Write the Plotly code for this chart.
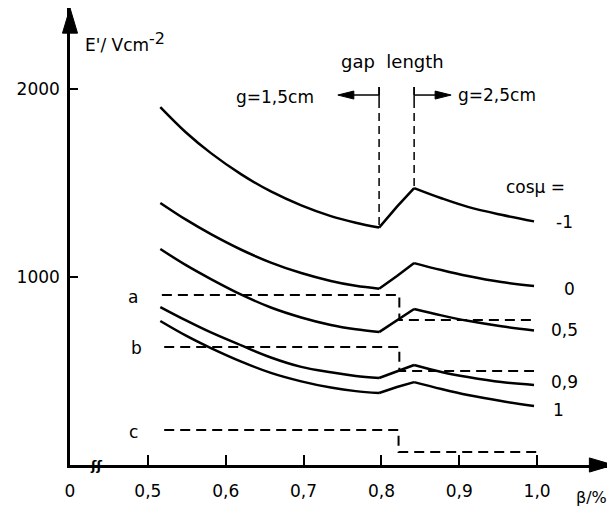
import plotly.graph_objects as go

# ---------------- data ----------------
beta = [0.516, 0.549, 0.581, 0.620, 0.658, 0.697, 0.735, 0.767, 0.797,
        0.820, 0.842, 0.877, 0.911, 0.954, 0.996]
E_m1 = [1904, 1769, 1659, 1546, 1455, 1381, 1324, 1289, 1263, 1374, 1473, 1419, 1373, 1331, 1296]
E_0 = [1394, 1305, 1228, 1145, 1077, 1021, 979, 953, 938, 1005, 1074, 1037, 1005, 973, 952]
E_05 = [1149, 1063, 989, 906, 838, 785, 745, 722, 707, 771, 830, 796, 767, 738, 716]
E_09 = [840, 769, 705, 636, 572, 522, 493, 474, 463, 500, 532, 495, 468, 441, 426]
E_1 = [766, 688, 622, 550, 490, 445, 412, 393, 383, 415, 441, 404, 372, 340, 314]
curves = [("-1", E_m1), ("0", E_0), ("0,5", E_05), ("0,9", E_09), ("1", E_1)]
i_gap0, i_gap1 = 8, 10          # indices where the gap length changes

a_beta = [0.518, 0.823, 0.823, 0.996]
a_E = [904, 904, 771, 771]
b_beta = [0.521, 0.823, 0.823, 0.996]
b_E = [628, 628, 500, 500]
c_beta = [0.521, 0.822, 0.822, 1.001]
c_E = [186, 186, 69, 69]
limits = [("a", a_beta, a_E), ("b", b_beta, b_E), ("c", c_beta, c_E)]

gap_start, gap_end = 0.797, 0.842
gap_top = 2011
gap_arrow_E = 1968
gap_arrow_left, gap_arrow_right = 0.744, 0.8895

x_tickvals = [0.4, 0.5, 0.6, 0.7, 0.8, 0.9, 1.0]
x_ticktext = ["0", "0,5", "0,6", "0,7", "0,8", "0,9", "1,0"]
y_tickvals = [1000, 2000]
y_ticktext = ["1000", "2000"]

# curve-label positions (beta, E)
curve_label_pos = {"-1": (1.035, 1293), "0": (1.042, 936), "0,5": (1.035, 718),
                   "0,9": (1.035, 441), "1": (1.027, 293)}
limit_label_x = {"a": 0.481, "b": 0.485, "c": 0.482}

# ---------------- figure ----------------
fig = go.Figure()
BLACK = "black"

for name, E in curves:
    fig.add_trace(go.Scatter(x=beta[:i_gap0 + 1], y=E[:i_gap0 + 1], mode="lines",
                             line=dict(color=BLACK, width=2.5, shape="spline", smoothing=1.0),
                             hoverinfo="skip"))
    fig.add_trace(go.Scatter(x=beta[i_gap0:i_gap1 + 1], y=E[i_gap0:i_gap1 + 1], mode="lines",
                             line=dict(color=BLACK, width=2.5), hoverinfo="skip"))
    fig.add_trace(go.Scatter(x=beta[i_gap1:], y=E[i_gap1:], mode="lines",
                             line=dict(color=BLACK, width=2.5, shape="spline", smoothing=1.0),
                             hoverinfo="skip"))

for name, bx, by in limits:
    fig.add_trace(go.Scatter(x=bx, y=by, mode="lines",
                             line=dict(color=BLACK, width=2, dash="10px,6px"),
                             hoverinfo="skip"))

# gap-length markers
for gx, gy in [(gap_start, E_m1[i_gap0]), (gap_end, E_m1[i_gap1])]:
    fig.add_trace(go.Scatter(x=[gx, gx], y=[gap_top, gy], mode="lines",
                             line=dict(color=BLACK, width=1.5, dash="8px,5px"), hoverinfo="skip"))
    fig.add_trace(go.Scatter(x=[gx, gx], y=[gap_top, gap_top - 70], mode="lines",
                             line=dict(color=BLACK, width=1.5), hoverinfo="skip"))
fig.add_trace(go.Scatter(x=[gap_arrow_left + 0.01, gap_start], y=[gap_arrow_E, gap_arrow_E],
                         mode="lines", line=dict(color=BLACK, width=1.5), hoverinfo="skip"))
fig.add_trace(go.Scatter(x=[gap_end, gap_arrow_right - 0.01], y=[gap_arrow_E, gap_arrow_E],
                         mode="lines", line=dict(color=BLACK, width=1.5), hoverinfo="skip"))

shapes = [
    dict(type="path", xref="x", yref="y", xsizemode="pixel", ysizemode="pixel",
         xanchor=gap_arrow_left, yanchor=gap_arrow_E, path="M0,0 L16,4 L16,-4 Z",
         fillcolor=BLACK, line=dict(color=BLACK, width=1)),
    dict(type="path", xref="x", yref="y", xsizemode="pixel", ysizemode="pixel",
         xanchor=gap_arrow_right, yanchor=gap_arrow_E, path="M0,0 L-16,4 L-16,-4 Z",
         fillcolor=BLACK, line=dict(color=BLACK, width=1)),
    # axis arrowheads (paper coords)
    dict(type="path", xref="paper", yref="paper",
         path="M0,1.0 L-0.0138,0.945 L0.0138,0.945 Z",
         fillcolor=BLACK, line=dict(color=BLACK, width=1)),
    dict(type="path", xref="paper", yref="paper",
         path="M0.997,0 L0.953,0.0155 L0.953,-0.0155 Z",
         fillcolor=BLACK, line=dict(color=BLACK, width=1)),
]

ann = []
def txt(x, y, s, xanchor="center", yanchor="middle", size=17, xref="x", yref="y"):
    ann.append(dict(x=x, y=y, xref=xref, yref=yref, text=s, showarrow=False,
                    xanchor=xanchor, yanchor=yanchor, font=dict(size=size, color=BLACK)))

txt(0.4167, 2250, "E'/ Vcm<sup><span style='font-size:16px'>-2</span></sup>", xanchor="left")
txt(0.8136, 2144, "gap\u00a0 length", size=18)
txt(0.716, 1957, "g=1,5cm", xanchor="right")
txt(0.8955, 1968, "g=2,5cm", xanchor="left")
txt(0.958, 1479, "cos\u03bc =", xanchor="left")
for name, _ in curves:
    px, py = curve_label_pos[name]
    txt(px, py, name)
for name, bx, by in limits:
    txt(limit_label_x[name], by[0] - 8, name)
txt(1.070, -0.072, "\u03b2/%", xref="x", yref="paper", size=16)
txt(0.4334, 0, "<b>\u0283\u0283</b>", size=13)

fig.update_layout(
    width=607, height=504,
    margin=dict(l=62, r=0, t=0, b=47),
    plot_bgcolor="white", paper_bgcolor="white",
    showlegend=False,
    font=dict(family="DejaVu Sans", size=17, color=BLACK),
    shapes=shapes, annotations=ann,
    xaxis=dict(range=[0.4, 1.1], tickvals=x_tickvals, ticktext=x_ticktext,
               ticks="inside", ticklen=10, tickwidth=1.5, tickcolor=BLACK,
               showline=True, linewidth=2.5, linecolor=BLACK,
               showgrid=False, zeroline=False, ticklabelstandoff=9),
    yaxis=dict(range=[0, 2431], tickvals=y_tickvals, ticktext=y_ticktext,
               ticks="inside", ticklen=8, tickwidth=2, tickcolor=BLACK,
               showline=True, linewidth=2.5, linecolor=BLACK,
               showgrid=False, zeroline=False, ticklabelstandoff=4),
)

fig.write_html("out.html")
